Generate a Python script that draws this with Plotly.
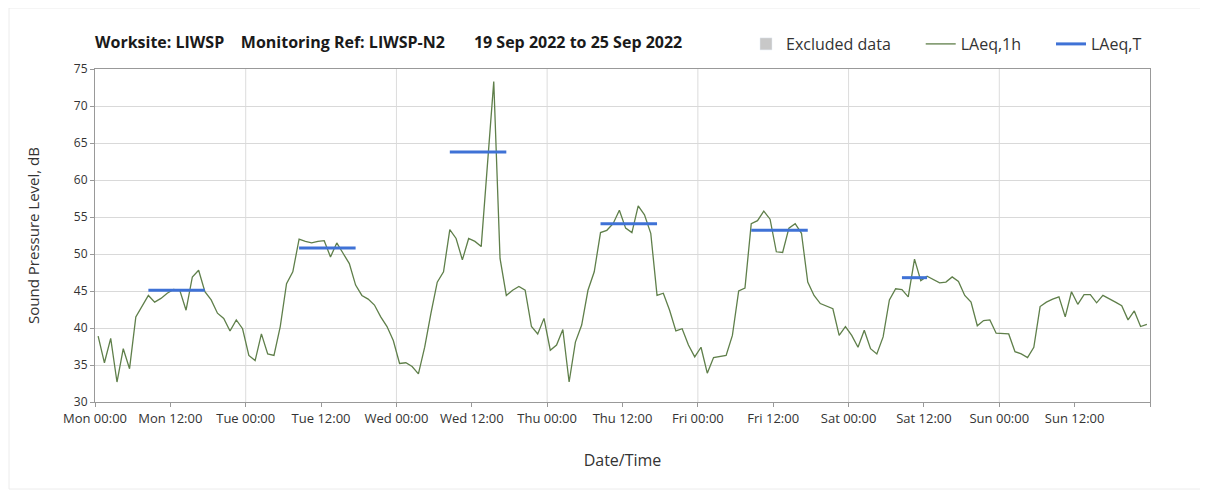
import pandas as pd
import plotly.graph_objects as go

# ---- data ----
start = pd.Timestamp("2022-09-19 00:00")
laeq_1h = [
    38.9, 35.3, 38.6, 32.7, 37.2, 34.5, 41.5, 42.9, 44.4, 43.5, 44.0, 44.7,
    45.2, 45.1, 42.4, 46.9, 47.8, 44.9, 43.8, 42.0, 41.3, 39.6, 41.1, 39.9,
    36.3, 35.6, 39.2, 36.5, 36.3, 40.2, 46.0, 47.6, 52.0, 51.7, 51.5, 51.7,
    51.8, 49.6, 51.5, 50.1, 48.7, 45.8, 44.4, 43.9, 43.1, 41.5, 40.2, 38.3,
    35.2, 35.3, 34.8, 33.8, 37.4, 42.0, 46.2, 47.6, 53.3, 52.1, 49.2, 52.1,
    51.7, 51.0, 62.8, 73.3, 49.4, 44.4, 45.1, 45.6, 45.1, 40.2, 39.2, 41.3,
    37.0, 37.7, 39.8, 32.7, 38.1, 40.4, 45.1, 47.6, 52.9, 53.2, 54.1, 55.9,
    53.5, 52.9, 56.5, 55.3, 52.8, 44.4, 44.7, 42.4, 39.6, 39.9, 37.7, 36.1,
    37.4, 33.9, 36.0, 36.2, 36.3, 39.0, 45.0, 45.4, 54.1, 54.5, 55.8, 54.7,
    50.3, 50.2, 53.5, 54.1, 52.8, 46.2, 44.4, 43.3, 43.0, 42.6, 39.0, 40.2,
    39.0, 37.4, 39.7, 37.2, 36.5, 38.8, 43.8, 45.3, 45.2, 44.2, 49.3, 46.4,
    47.0, 46.5, 46.1, 46.2, 46.9, 46.3, 44.4, 43.5, 40.3, 41.0, 41.1, 39.3,
    39.2, 39.2, 36.8, 36.5, 36.0, 37.4, 42.9, 43.5, 43.9, 44.2, 41.5, 44.9,
    43.2, 44.5, 44.5, 43.4, 44.4, 44.0, 43.5, 43.0, 41.1, 42.3, 40.2, 40.5,
]

period_days = ["2022-09-19", "2022-09-20", "2022-09-21", "2022-09-22", "2022-09-23", "2022-09-24"]
period_start_h = [8, 8, 8, 8, 8, 8]
period_end_h = [18, 18, 18, 18, 18, 13]
laeq_t = [45.1, 50.8, 63.8, 54.1, 53.2, 46.8]

title_parts = ["Worksite: LIWSP", "Monitoring Ref: LIWSP-N2", "19 Sep 2022 to 25 Sep 2022"]
legend_names = ["Excluded data", "LAeq,1h", "LAeq,T"]

# ---- derived ----
x_1h = [start + pd.Timedelta(minutes=30) + pd.Timedelta(hours=i) for i in range(len(laeq_1h))]

xt, yt = [], []
for d, s, e, v in zip(period_days, period_start_h, period_end_h, laeq_t):
    day = pd.Timestamp(d)
    xt += [day + pd.Timedelta(hours=s, minutes=30), day + pd.Timedelta(hours=e - 1, minutes=30), None]
    yt += [v, v, None]

end = start + pd.Timedelta(days=7)
tickvals = list(pd.date_range(start, end, freq="12h"))
ticktext = [t.strftime("%a %H:%M") for t in tickvals[:-1]] + [""]
day_lines = list(pd.date_range(start + pd.Timedelta(days=1), end - pd.Timedelta(days=1), freq="D"))

FONT = "Open Sans, Noto Sans, sans-serif"
pad = "&nbsp;" * 6

fig = go.Figure()
fig.add_trace(go.Bar(x=[None], y=[None], name=legend_names[0] + pad,
                     marker=dict(color="#c8c8c8"), showlegend=True))
fig.add_trace(go.Scatter(x=x_1h, y=laeq_1h, mode="lines", name=legend_names[1] + pad,
                         line=dict(color="#5f7f4a", width=1.3)))
fig.add_trace(go.Scatter(x=xt, y=yt, mode="lines", name=legend_names[2],
                         line=dict(color="#3f72d6", width=3)))

# page is drawn with an 8px body offset
OFF = 8
W, H = 1200, 485
L, R, T, B = 95 - OFF, 58, 69 - OFF, 91
pw, ph = W - L - R, H - T - B
def px(xp): return (xp - OFF - L) / pw
def py(yp): return (H - B - (yp - OFF)) / ph

shapes = []
for d in day_lines:
    shapes.append(dict(type="line", xref="x", yref="paper", x0=d, x1=d, y0=0, y1=1,
                       line=dict(color="#dcdcdc", width=1), layer="below"))
shapes.append(dict(type="rect", xref="paper", yref="paper",
                   x0=px(9), x1=px(1205), y0=py(489), y1=py(8),
                   line=dict(color="#ececec", width=1), fillcolor="rgba(0,0,0,0)", layer="below"))

sep1 = "&nbsp;" * 4
sep2 = "&nbsp;" * 7
title_html = "<b>" + title_parts[0] + sep1 + title_parts[1] + sep2 + title_parts[2] + "</b>"

fig.update_layout(
    width=W, height=H,
    margin=dict(l=L, r=R, t=T, b=B, autoexpand=False),
    paper_bgcolor="white", plot_bgcolor="white",
    font=dict(family=FONT, color="#333333", size=12),
    title=dict(text=title_html, x=px(95), xref="paper",
               xanchor="left", y=1 - (42 - OFF) / H, yanchor="middle",
               font=dict(family=FONT, size=16, color="#1a1a1a")),
    legend=dict(orientation="h", x=px(1147), xanchor="right", y=py(44), yanchor="middle",
                font=dict(family=FONT, size=16, color="#333333"),
                bgcolor="rgba(0,0,0,0)", itemwidth=30, traceorder="normal"),
    shapes=shapes,
    showlegend=True,
)
fig.update_xaxes(
    type="date", range=[start, end], automargin=False,
    tickmode="array", tickvals=tickvals, ticktext=ticktext,
    ticks="outside", ticklen=4, tickcolor="#999999",
    showgrid=False, showline=True, linecolor="#999999", linewidth=1, mirror=True,
    tickfont=dict(size=13, color="#333333"),
    title=dict(text="Date/Time", font=dict(size=16, color="#333333"), standoff=29),
    zeroline=False,
)
fig.update_yaxes(
    range=[30, 75], dtick=5, tick0=30, automargin=False,
    ticks="outside", ticklen=4, tickcolor="#999999",
    showgrid=True, gridcolor="#d9d9d9", gridwidth=1,
    showline=True, linecolor="#999999", linewidth=1, mirror=True,
    tickfont=dict(size=12, color="#333333"),
    title=dict(text="Sound Pressure Level, dB", font=dict(size=15, color="#333333"), standoff=30),
    zeroline=False,
)

fig.write_html("out.html")
